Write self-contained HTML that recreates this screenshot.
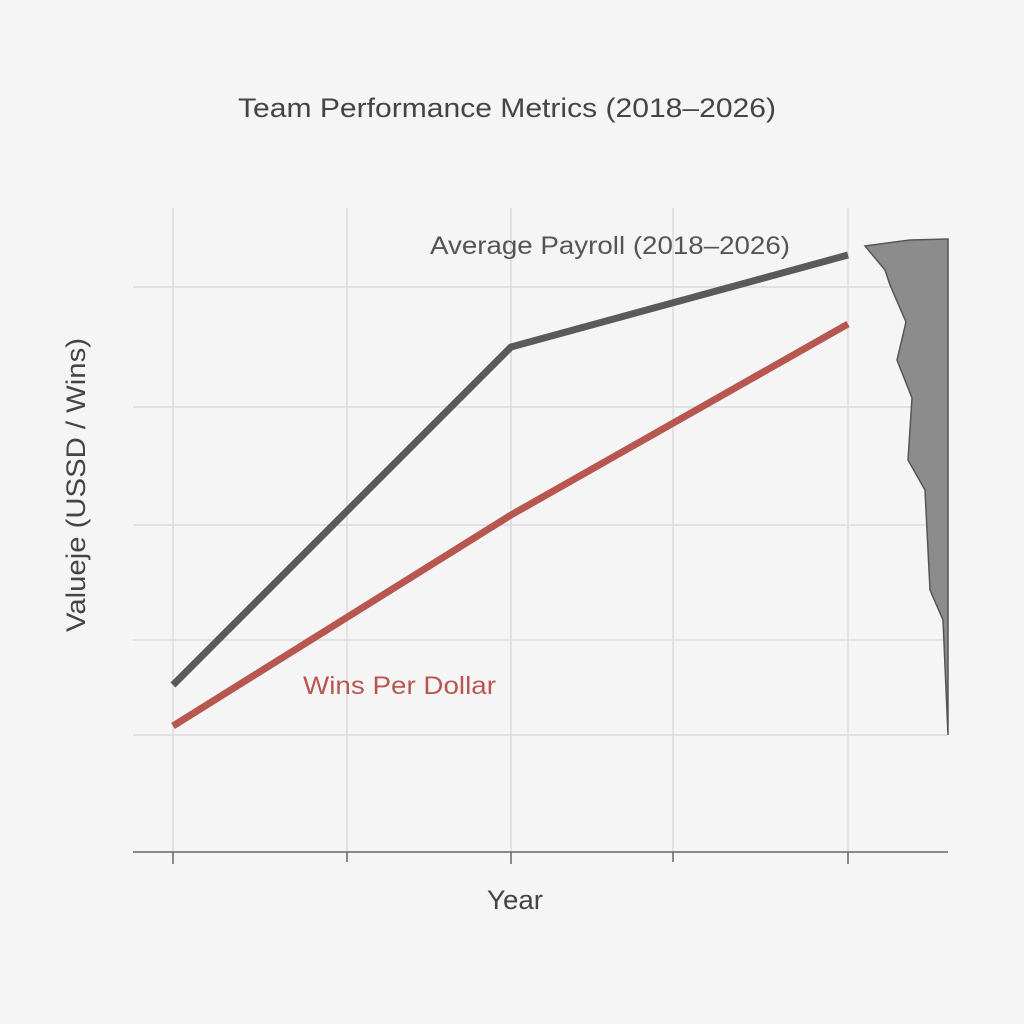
<!DOCTYPE html>
<html><head><style>
html,body{margin:0;padding:0;background:#f5f5f5;}
</style></head><body>
<svg width="1024" height="1024" xmlns="http://www.w3.org/2000/svg" style="display:block">
<rect width="1024" height="1024" fill="#f5f5f5"/>
<g stroke="#dcdcdc" stroke-width="1.5">
<line x1="173" y1="208" x2="173" y2="852"/>
<line x1="347" y1="208" x2="347" y2="852"/>
<line x1="511" y1="208" x2="511" y2="852"/>
<line x1="673" y1="208" x2="673" y2="852"/>
<line x1="848" y1="208" x2="848" y2="852"/>
<line x1="133" y1="287" x2="948" y2="287"/>
<line x1="133" y1="407" x2="948" y2="407"/>
<line x1="133" y1="525" x2="948" y2="525"/>
<line x1="133" y1="640" x2="948" y2="640"/>
<line x1="133" y1="735" x2="948" y2="735"/>
</g>
<g stroke="#666" stroke-width="1.5">
<line x1="133" y1="852" x2="948" y2="852"/>
<line x1="173" y1="852" x2="173" y2="864"/>
<line x1="347" y1="852" x2="347" y2="862"/>
<line x1="511" y1="852" x2="511" y2="864"/>
<line x1="673" y1="852" x2="673" y2="862"/>
<line x1="848" y1="852" x2="848" y2="864"/>
</g>
<polygon points="865,246 910,240 948,239 948,735 943,620 930,590 925,490 908,460 912,398 897,360 906,322 890,285 885,270" fill="#8c8c8c" stroke="#555" stroke-width="1.5"/>
<polyline points="173,685 511,347 848,255" fill="none" stroke="#5a5a5a" stroke-width="7" stroke-linejoin="round"/>
<polyline points="173,726 511,515 848,324" fill="none" stroke="#b85750" stroke-width="7" stroke-linejoin="round"/>
<g font-family="Liberation Sans, DejaVu Sans, sans-serif">
<text x="238" y="117" font-size="27" fill="#444" textLength="538" lengthAdjust="spacingAndGlyphs">Team Performance Metrics (2018–2026)</text>
<text x="430" y="254" font-size="25" fill="#555" textLength="360" lengthAdjust="spacingAndGlyphs">Average Payroll (2018–2026)</text>
<text x="303" y="694" font-size="25" fill="#b85750" textLength="193" lengthAdjust="spacingAndGlyphs">Wins Per Dollar</text>
<text x="487" y="909" font-size="27" fill="#444" textLength="56" lengthAdjust="spacingAndGlyphs">Year</text>
<text transform="translate(85,632) rotate(-90)" font-size="27" fill="#444" textLength="294" lengthAdjust="spacingAndGlyphs">Valueje (USSD / Wins)</text>
</g>
</svg>
</body></html>
